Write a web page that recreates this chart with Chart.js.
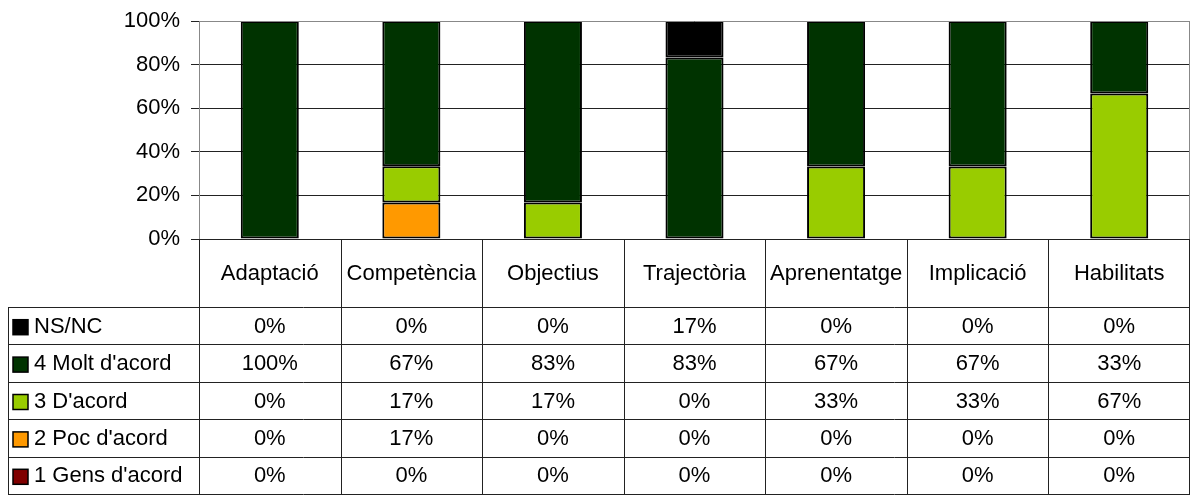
<!DOCTYPE html>
<html>
<head>
<meta charset="utf-8">
<script src="https://cdn.jsdelivr.net/npm/chart.js@4"></script>
<style>
  html, body { margin: 0; padding: 0; background: #fff; }
</style>
</head>
<body>
<canvas id="myChart" width="1192" height="496"></canvas>
<script>
const categories = ['Adaptació', 'Competència', 'Objectius', 'Trajectòria', 'Aprenentatge', 'Implicació', 'Habilitats'];
const gensAcord = [0, 0, 0, 0, 0, 0, 0];
const pocAcord = [0, 16.7, 0, 0, 0, 0, 0];
const dAcord = [0, 16.7, 16.7, 0, 33.3, 33.3, 66.7];
const moltAcord = [100, 66.6, 83.3, 83.3, 66.7, 66.7, 33.3];
const nsnc = [0, 0, 0, 16.7, 0, 0, 0];
const yTicks = [0, 20, 40, 60, 80, 100];

const FONT = '"Liberation Sans", Arial, sans-serif';

// taula de dades sota el gràfic, alineada amb l'eix x
const dataTable = {
    id: 'dataTable',
    afterDraw(chart) {
        const ctx = chart.ctx;
        const area = chart.chartArea;
        const x = chart.scales.x;
        const n = categories.length;
        const colW = (x.right - x.left) / n;
        const headTop = Math.round(area.bottom);
        const headBottom = 307;
        const rowH = 37.4;
        const rows = chart.data.datasets.slice().reverse();
        const tableBottom = headBottom + rowH * rows.length;
        const legendLeft = 8;

        ctx.save();
        // vora del plot
        ctx.strokeStyle = '#888';
        ctx.lineWidth = 1;
        ctx.beginPath();
        ctx.moveTo(Math.round(area.left) + 0.5, Math.round(area.top) + 0.5);
        ctx.lineTo(Math.round(area.right) - 0.5, Math.round(area.top) + 0.5);
        ctx.lineTo(Math.round(area.right) - 0.5, Math.round(area.bottom));
        ctx.stroke();

        ctx.strokeStyle = '#222';
        ctx.beginPath();
        // línies verticals de columnes
        for (let i = 0; i <= n; i++) {
            const cx = Math.round(x.left + i * colW) + 0.5 - (i === n ? 1 : 0);
            ctx.moveTo(cx, headTop);
            ctx.lineTo(cx, tableBottom);
        }
        ctx.moveTo(legendLeft + 0.5, headBottom);
        ctx.lineTo(legendLeft + 0.5, tableBottom);
        // línies horitzontals
        for (let r = 0; r <= rows.length; r++) {
            const y = Math.round(headBottom + r * rowH) + 0.5;
            ctx.moveTo(legendLeft, y);
            ctx.lineTo(Math.round(x.right), y);
        }
        ctx.stroke();

        ctx.fillStyle = '#000';
        ctx.font = '22px ' + FONT;
        ctx.textBaseline = 'middle';
        ctx.textAlign = 'center';
        categories.forEach((c, i) => {
            ctx.fillText(c, x.left + (i + 0.5) * colW, (headTop + headBottom) / 2 + 1);
        });

        rows.forEach((ds, r) => {
            const cy = headBottom + (r + 0.5) * rowH + 1;
            ctx.fillStyle = ds.backgroundColor;
            ctx.fillRect(13, cy - 7, 15, 15);
            ctx.strokeStyle = '#000';
            ctx.lineWidth = 1.5;
            ctx.strokeRect(13, cy - 7, 15, 15);
            ctx.fillStyle = '#000';
            ctx.textAlign = 'left';
            ctx.fillText(ds.label, 34, cy);
            ctx.textAlign = 'center';
            ds.data.forEach((v, i) => {
                ctx.fillText(Math.round(v) + '%', x.left + (i + 0.5) * colW, cy);
            });
        });
        ctx.restore();
    }
};

const ctx = document.getElementById('myChart').getContext('2d');
const myChart = new Chart(ctx, {
    type: 'bar',
    data: {
        labels: categories,
        datasets: [
            { label: "1 Gens d'acord", data: gensAcord, backgroundColor: '#800000' },
            { label: "2 Poc d'acord", data: pocAcord, backgroundColor: '#FF9900' },
            { label: "3 D'acord", data: dAcord, backgroundColor: '#99CC00' },
            { label: "4 Molt d'acord", data: moltAcord, backgroundColor: '#003300' },
            { label: 'NS/NC', data: nsnc, backgroundColor: '#000000' }
        ].map(d => Object.assign(d, {
            borderColor: '#000',
            borderWidth: 2,
            borderSkipped: false,
            categoryPercentage: 1,
            barPercentage: 0.41
        }))
    },
    options: {
        responsive: false,
        animation: false,
        layout: { padding: { left: 0, top: 21, right: 2, bottom: 257 } },
        plugins: {
            legend: { display: false },
            tooltip: { enabled: false }
        },
        scales: {
            x: {
                stacked: true,
                display: false
            },
            y: {
                stacked: true,
                min: 0,
                max: 100,
                afterFit: (s) => {
                    s.width = 199;
                    s.paddingTop = 0;
                    s.paddingBottom = 0;
                },
                afterBuildTicks: (s) => { s.ticks = yTicks.map(v => ({ value: v })); },
                border: { color: '#888', width: 1 },
                grid: {
                    color: (c) => c.tick && c.tick.value === 100 ? '#888' : '#222',
                    tickLength: 8,
                    tickColor: '#222'
                },
                ticks: {
                    padding: 11,
                    color: '#000',
                    font: { family: FONT, size: 22 },
                    callback: (v) => v + '%'
                }
            }
        }
    },
    plugins: [dataTable]
});
</script>
</body>
</html>
